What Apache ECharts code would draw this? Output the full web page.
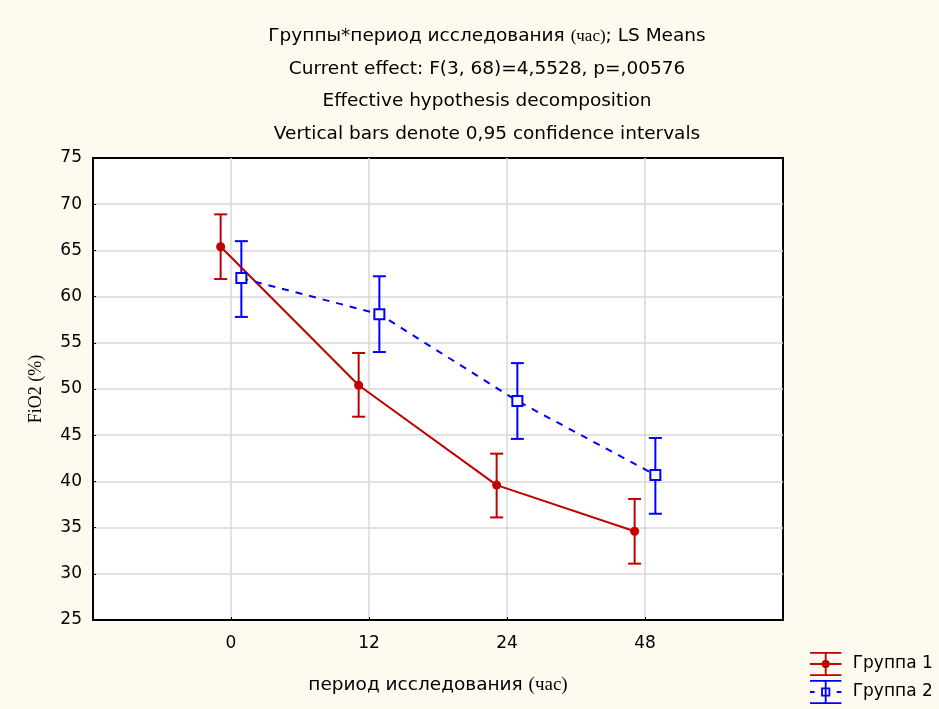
<!DOCTYPE html>
<html>
<head>
<meta charset="utf-8">
<script src="https://cdn.jsdelivr.net/npm/echarts@6/dist/echarts.min.js"></script>
<style>
  html, body { margin: 0; padding: 0; background: #fff; }
  #main { width: 939px; height: 709px; }
</style>
</head>
<body>
<div id="main"></div>
<script>
// период исследования (час)
var periods = ['0', '12', '24', '48']
// Группа 1: LS means and 0,95 CI
var g1Mean = [65.4, 50.4, 39.6, 34.6]
var g1Low = [61.9, 47.0, 36.1, 31.1]
var g1High = [68.9, 53.9, 43.0, 38.1]
// Группа 2
var g2Mean = [62.0, 58.1, 48.7, 40.7]
var g2Low = [57.8, 54.0, 44.6, 36.5]
var g2High = [66.0, 62.2, 52.8, 44.7]

var shift = 0.075
var red = '#C00000'
var blue = '#0000FF'
var sans = 'DejaVu Sans'
var serif = 'Liberation Serif'

function pts (mean, off) {
  return mean.map(function (v, i) { return [i + 1 + off, v] })
}
function bars (low, high, off) {
  return low.map(function (v, i) { return [i + 1 + off, v, high[i]] })
}

function errorBar (params, api) {
  var x = api.value(0)
  var lo = api.coord([x, api.value(1)])
  var hi = api.coord([x, api.value(2)])
  var w = 6.5
  var style = { stroke: api.visual('color'), lineWidth: 2 }
  return {
    type: 'group',
    children: [
      { type: 'line', shape: { x1: lo[0], y1: lo[1], x2: hi[0], y2: hi[1] }, style: style },
      { type: 'line', shape: { x1: hi[0] - w, y1: hi[1], x2: hi[0] + w, y2: hi[1] }, style: style },
      { type: 'line', shape: { x1: lo[0] - w, y1: lo[1], x2: lo[0] + w, y2: lo[1] }, style: style }
    ]
  }
}

var icon1 = 'path://M0 0h34v2H0z M0 12h34v2H0z M0 24h34v2H0z M16 0h2v26h-2z M17 8.5a4.5 4.5 0 1 1 -0.01 0z'
var icon2 = 'path://M0 0h34v2H0z M0 24h34v2H0z M16 0h2v26h-2z M0 12h5v2H0z M29 12h5v2h-5z M12 8h10v10H12z M14 10v6h6v-6z'

var chart = echarts.init(document.getElementById('main'))
var option = {
  backgroundColor: '#FFFAF0',
  animation: false,
  title: {
    text: 'Группы*период исследования {s|(час)}; LS Means\nCurrent effect: F(3, 68)=4,5528, p=,00576\nEffective hypothesis decomposition\nVertical bars denote 0,95 confidence intervals',
    left: 482,
    textAlign: 'center',
    top: 15,
    textStyle: {
      fontFamily: sans,
      fontSize: 18.5,
      fontWeight: 'normal',
      color: '#000',
      lineHeight: 32.5,
      rich: {
        s: { fontFamily: serif, fontSize: 17, color: '#000', lineHeight: 32.5 }
      }
    }
  },
  legend: {
    orient: 'vertical',
    left: 805,
    top: 647,
    itemWidth: 34,
    itemHeight: 24,
    itemGap: 4,
    selectedMode: false,
    textStyle: { fontFamily: sans, fontSize: 17, color: '#000', padding: [0, 0, 0, 5] },
    data: [
      { name: 'Группа 1', icon: icon1 },
      { name: 'Группа 2', icon: icon2 }
    ]
  },
  grid: {
    left: 93,
    top: 158,
    width: 690,
    height: 462,
    show: true,
    backgroundColor: '#fff',
    borderColor: '#000',
    borderWidth: 2
  },
  xAxis: {
    type: 'value',
    min: 0,
    max: 5,
    interval: 1,
    name: 'период исследования {s|(час)}',
    nameLocation: 'middle',
    nameGap: 56,
    nameTextStyle: {
      fontFamily: sans,
      fontSize: 18.5,
      color: '#000',
      rich: { s: { fontFamily: serif, fontSize: 19, color: '#000' } }
    },
    axisLine: { lineStyle: { color: '#000', width: 2 } },
    axisTick: { inside: true, length: 3, lineStyle: { color: '#000' } },
    splitLine: { showMinLine: false, showMaxLine: false, lineStyle: { color: '#D9D9D9', width: 1.5 } },
    axisLabel: {
      margin: 15,
      fontFamily: sans,
      fontSize: 17,
      color: '#000',
      formatter: function (v) { return periods[v - 1] || '' }
    }
  },
  yAxis: {
    type: 'value',
    min: 25,
    max: 75,
    interval: 5,
    name: 'FiO2 (%)',
    nameLocation: 'middle',
    nameGap: 48,
    nameTextStyle: { fontFamily: serif, fontSize: 18, color: '#000' },
    axisLine: { show: true, lineStyle: { color: '#000', width: 2 } },
    axisTick: { show: true, inside: true, length: 3, lineStyle: { color: '#000' } },
    splitLine: { showMinLine: false, showMaxLine: false, lineStyle: { color: '#D9D9D9', width: 1.5 } },
    axisLabel: { margin: 11, fontFamily: sans, fontSize: 17, color: '#000' }
  },
  series: [
    {
      name: 'Группа 1',
      type: 'custom',
      renderItem: errorBar,
      itemStyle: { color: red },
      encode: { x: 0, y: [1, 2] },
      data: bars(g1Low, g1High, -shift),
      z: 2
    },
    {
      name: 'Группа 2',
      type: 'custom',
      renderItem: errorBar,
      itemStyle: { color: blue },
      encode: { x: 0, y: [1, 2] },
      data: bars(g2Low, g2High, shift),
      z: 2
    },
    {
      name: 'Группа 1',
      type: 'line',
      data: pts(g1Mean, -shift),
      symbol: 'circle',
      symbolSize: 9,
      itemStyle: { color: red },
      lineStyle: { color: red, width: 2 },
      z: 3
    },
    {
      name: 'Группа 2',
      type: 'line',
      data: pts(g2Mean, shift),
      symbol: 'emptyRect',
      symbolSize: 10,
      itemStyle: { color: blue, borderWidth: 1.5 },
      lineStyle: { color: blue, width: 2, type: [7, 7] },
      z: 3
    }
  ]
}
chart.setOption(option)
</script>
</body>
</html>
